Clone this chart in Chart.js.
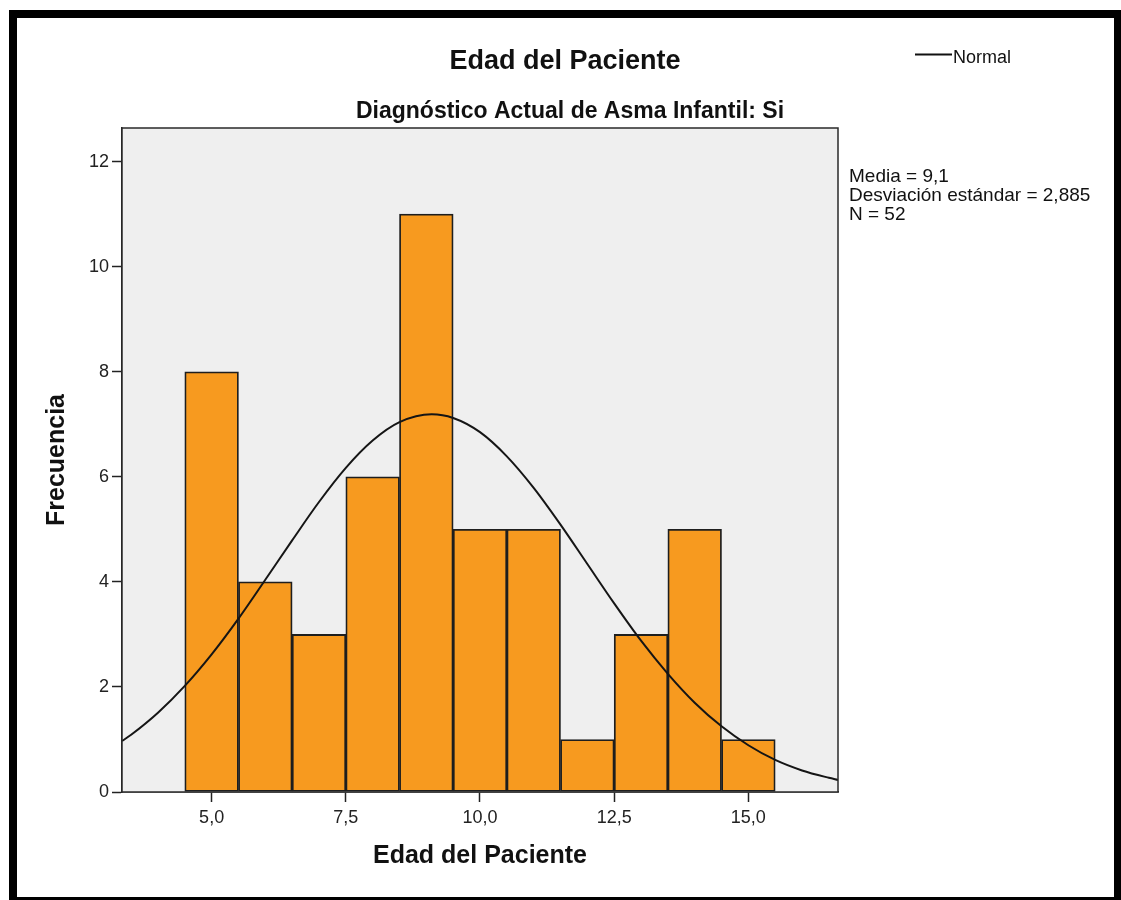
<!DOCTYPE html>
<html lang="es">
<head>
<meta charset="utf-8">
<title>Edad del Paciente</title>
<script src="https://cdn.jsdelivr.net/npm/chart.js@4/dist/chart.umd.min.js"></script>
<style>
  html, body { margin: 0; padding: 0; background: #ffffff; overflow: hidden; }
  #wrap { position: relative; width: 1121px; height: 900px; }
  #chart { position: absolute; left: 0; top: 0; }
  #frame {
    position: absolute; left: 9px; top: 10px; width: 1112px; height: 895px;
    box-sizing: border-box; border: 8px solid #000; border-right-width: 7px;
    pointer-events: none;
  }
</style>
</head>
<body>
<div id="wrap">
  <canvas id="chart" width="1121" height="900"></canvas>
  <div id="frame"></div>
</div>
<script>
// Histogram bins (age centre of each one-year bin) and frequencies
const ages = [5, 6, 7, 8, 9, 10, 11, 12, 13, 14, 15];
const freq = [8, 4, 3, 6, 11, 5, 5, 1, 3, 5, 1];

// Fitted normal curve, sampled along the age axis
const curveX = [3.33, 3.5, 4, 4.5, 5, 5.5, 6, 6.5, 7, 7.5, 8, 8.5, 9.1, 9.5, 10, 10.5, 11, 11.5, 12, 12.5, 13, 13.5, 14, 14.5, 15, 15.5, 16, 16.5, 16.67];
const curveY = [0.97, 1.09, 1.51, 2.02, 2.62, 3.30, 4.04, 4.79, 5.52, 6.17, 6.69, 7.04, 7.19, 7.12, 6.85, 6.39, 5.79, 5.09, 4.34, 3.59, 2.88, 2.25, 1.70, 1.25, 0.89, 0.61, 0.41, 0.27, 0.23];

// Axis ticks and ranges
const xTicks = [5, 7.5, 10, 12.5, 15];
const yTicks = [0, 2, 4, 6, 8, 10, 12];
const xRange = [3.33, 16.67];
const yRange = [0, 12.64];

// Text
const mainTitle = 'Edad del Paciente';
const subTitle = 'Diagnóstico Actual de Asma Infantil: Si';
const xTitle = 'Edad del Paciente';
const yTitle = 'Frecuencia';
const legendLabel = 'Normal';
const statsLines = ['Media = 9,1', 'Desviación estándar = 2,885', 'N = 52'];

const FONT = "'Liberation Sans', Arial, Helvetica, sans-serif";
Chart.defaults.font.family = FONT;

const barPoints = ages.map((a, i) => ({ x: a, y: freq[i] }));
const curvePoints = curveX.map((x, i) => ({ x: x, y: curveY[i] }));

const decor = {
  id: 'decor',
  beforeDatasetsDraw(chart) {
    const { ctx, chartArea: a } = chart;
    ctx.save();
    ctx.fillStyle = '#efefef';
    ctx.fillRect(a.left, a.top, a.right - a.left, a.bottom - a.top);
    ctx.restore();
  },
  afterDatasetsDraw(chart) {
    const { ctx, chartArea: a } = chart;
    ctx.save();
    ctx.strokeStyle = '#2a2a2a';
    ctx.lineWidth = 1.5;
    ctx.strokeRect(a.left, a.top, a.right - a.left, a.bottom - a.top);
    ctx.restore();
  },
  afterDraw(chart) {
    const ctx = chart.ctx;
    ctx.save();
    ctx.fillStyle = '#111';
    ctx.textBaseline = 'alphabetic';
    ctx.textAlign = 'center';
    ctx.font = 'bold 27px ' + FONT;
    ctx.fillText(mainTitle, 565, 69);
    ctx.font = 'bold 23px ' + FONT;
    ctx.fillText(subTitle, 570, 118);

    // legend
    ctx.strokeStyle = '#111';
    ctx.lineWidth = 2;
    ctx.beginPath();
    ctx.moveTo(915, 54.5);
    ctx.lineTo(952, 54.5);
    ctx.stroke();
    ctx.textAlign = 'left';
    ctx.font = '18px ' + FONT;
    ctx.fillText(legendLabel, 953, 63);

    // summary statistics
    ctx.font = '19px ' + FONT;
    statsLines.forEach((t, i) => ctx.fillText(t, 849, 182 + i * 19));
    ctx.restore();
  }
};

new Chart(document.getElementById('chart'), {
  data: {
    datasets: [
      {
        type: 'line',
        label: legendLabel,
        data: curvePoints,
        borderColor: '#151515',
        borderWidth: 2,
        pointRadius: 0,
        fill: false,
        cubicInterpolationMode: 'monotone',
        order: 0
      },
      {
        type: 'bar',
        label: 'Frecuencia',
        data: barPoints,
        backgroundColor: '#f79a1f',
        borderColor: '#1e1e1e',
        borderWidth: 1.8,
        borderSkipped: false,
        barPercentage: 1,
        categoryPercentage: 1,
        grouped: false,
        order: 1
      }
    ]
  },
  options: {
    responsive: false,
    animation: false,
    devicePixelRatio: 1,
    layout: { padding: { left: 40, top: 128, right: 283, bottom: 20 } },
    plugins: {
      legend: { display: false },
      title: { display: false },
      tooltip: { enabled: false }
    },
    scales: {
      x: {
        type: 'linear',
        offset: false,
        min: xRange[0],
        max: xRange[1],
        afterBuildTicks(s) { s.ticks = xTicks.map(v => ({ value: v })); },
        afterFit(s) { s.height = 88; },
        grid: { offset: false, drawOnChartArea: false, drawTicks: true, tickLength: 10, tickColor: '#222', tickWidth: 1.5 },
        border: { display: true, color: '#222', width: 1.5 },
        ticks: {
          color: '#222',
          font: { size: 18 },
          padding: 5,
          maxRotation: 0,
          callback: v => v.toFixed(1).replace('.', ',')
        },
        title: {
          display: true,
          text: xTitle,
          color: '#111',
          font: { size: 25, weight: 'bold' },
          padding: { top: 0, bottom: 9 }
        }
      },
      y: {
        type: 'linear',
        min: yRange[0],
        max: yRange[1],
        afterBuildTicks(s) { s.ticks = yTicks.map(v => ({ value: v })); },
        afterFit(s) { s.width = 82; },
        grid: { drawOnChartArea: false, drawTicks: true, tickLength: 10, tickColor: '#222', tickWidth: 1.5 },
        border: { display: true, color: '#222', width: 1.5 },
        ticks: {
          color: '#222',
          font: { size: 18 },
          padding: 3,
          callback: v => String(v)
        },
        title: {
          display: true,
          text: yTitle,
          color: '#111',
          font: { size: 25, weight: 'bold' },
          padding: { top: 2, bottom: 0 }
        }
      }
    }
  },
  plugins: [decor]
});
</script>
</body>
</html>
